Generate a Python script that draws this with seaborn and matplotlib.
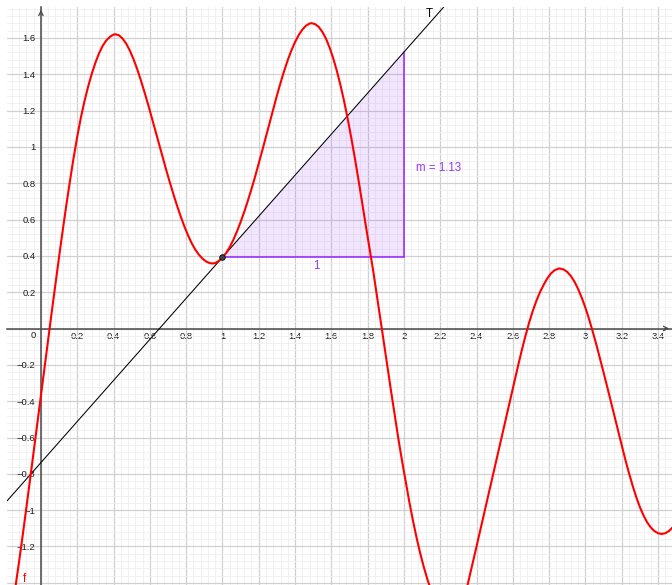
import numpy as np
import matplotlib
matplotlib.use("Agg")
import matplotlib.pyplot as plt
import seaborn as sns
from matplotlib.patches import Polygon

# ---- data ----
curve_x = [-0.160, -0.140, -0.120, -0.100, -0.080, -0.060, -0.040, -0.020, 0.000, 0.020,
           0.040, 0.060, 0.080, 0.100, 0.120, 0.140, 0.160, 0.180, 0.200, 0.220,
           0.240, 0.260, 0.280, 0.300, 0.320, 0.340, 0.360, 0.380, 0.400, 0.410,
           0.430, 0.450, 0.470, 0.490, 0.510, 0.530, 0.550, 0.570, 0.590, 0.610,
           0.630, 0.650, 0.670, 0.690, 0.710, 0.730, 0.750, 0.770, 0.790, 0.810,
           0.830, 0.850, 0.870, 0.890, 0.910, 0.930, 0.945, 0.960, 0.980, 1.000,
           1.020, 1.040, 1.060, 1.080, 1.100, 1.120, 1.140, 1.160, 1.180, 1.200,
           1.220, 1.240, 1.260, 1.280, 1.300, 1.320, 1.340, 1.360, 1.380, 1.400,
           1.420, 1.440, 1.460, 1.480, 1.491, 1.510, 1.530, 1.550, 1.570, 1.590,
           1.610, 1.630, 1.650, 1.670, 1.690, 1.710, 1.730, 1.750, 1.770, 1.790,
           1.810, 1.830, 1.850, 1.870, 1.890, 1.910, 1.930, 1.950, 1.970, 1.990,
           2.010, 2.030, 2.050, 2.070, 2.090, 2.110, 2.130, 2.150, 2.170, 2.200,
           2.250, 2.290, 2.330, 2.351, 2.400, 2.446, 2.492, 2.538, 2.584, 2.630,
           2.650, 2.670, 2.690, 2.710, 2.730, 2.750, 2.770, 2.790, 2.810, 2.830,
           2.856, 2.880, 2.900, 2.920, 2.940, 2.960, 2.980, 3.000, 3.020, 3.040,
           3.060, 3.080, 3.100, 3.120, 3.140, 3.160, 3.180, 3.200, 3.220, 3.240,
           3.260, 3.280, 3.300, 3.320, 3.340, 3.360, 3.380, 3.400, 3.420, 3.440,
           3.460, 3.480]
curve_y = [-1.560, -1.420, -1.280, -1.135, -0.985, -0.832, -0.677, -0.522, -0.367, -0.212,
           -0.058, 0.095, 0.246, 0.395, 0.540, 0.680, 0.813, 0.940, 1.056, 1.161,
           1.252, 1.332, 1.402, 1.463, 1.515, 1.556, 1.586, 1.606, 1.618, 1.620,
           1.614, 1.596, 1.568, 1.530, 1.483, 1.429, 1.368, 1.303, 1.235, 1.164,
           1.091, 1.018, 0.946, 0.874, 0.805, 0.739, 0.676, 0.617, 0.563, 0.514,
           0.471, 0.435, 0.407, 0.385, 0.369, 0.360, 0.358, 0.360, 0.372, 0.392,
           0.415, 0.448, 0.488, 0.534, 0.586, 0.642, 0.703, 0.768, 0.836, 0.908,
           0.982, 1.057, 1.133, 1.209, 1.282, 1.352, 1.418, 1.478, 1.531, 1.577,
           1.615, 1.645, 1.667, 1.679, 1.681, 1.676, 1.661, 1.634, 1.597, 1.548,
           1.489, 1.420, 1.341, 1.253, 1.155, 1.049, 0.936, 0.816, 0.690, 0.566,
           0.443, 0.322, 0.189, 0.056, -0.081, -0.217, -0.351, -0.481, -0.611, -0.731,
           -0.845, -0.956, -1.059, -1.153, -1.239, -1.315, -1.383, -1.441, -1.491, -1.550,
           -1.600, -1.570, -1.490, -1.410, -1.200, -1.000, -0.800, -0.600, -0.400, -0.200,
           -0.117, -0.039, 0.033, 0.097, 0.153, 0.201, 0.241, 0.276, 0.303, 0.321,
           0.331, 0.325, 0.311, 0.289, 0.257, 0.217, 0.169, 0.114, 0.052, -0.016,
           -0.088, -0.164, -0.242, -0.321, -0.401, -0.482, -0.563, -0.643, -0.722, -0.796,
           -0.865, -0.928, -0.983, -1.029, -1.067, -1.095, -1.115, -1.127, -1.131, -1.127,
           -1.115, -1.095]

tangent_point = (1.0, 0.392)
tangent_slope = 1.13
triangle_run = 1.0

x_tick_values = [0.2, 0.4, 0.6, 0.8, 1.0, 1.2, 1.4, 1.6, 1.8, 2.0, 2.2, 2.4, 2.6, 2.8, 3.0, 3.2, 3.4]
y_tick_values = [-1.2, -1.0, -0.8, -0.6, -0.4, -0.2, 0.2, 0.4, 0.6, 0.8, 1.0, 1.2, 1.4, 1.6]

slope_label = "m = 1.13"
run_label = "1"
curve_label = "f"
tangent_label = "T"

# ---- style ----
sns.set_style("white")
plt.rcParams["font.family"] = ["Liberation Sans", "DejaVu Sans"]
plt.rcParams["axes.unicode_minus"] = True

W, H = 672, 585
fig = plt.figure(figsize=(W / 100, H / 100), dpi=100)
ax = fig.add_axes([7 / W, 0, (W - 7) / W, (H - 7) / H])

# grid
xt = list(np.round(np.arange(-0.2, 3.6001, 0.2), 2))
yt = list(np.round(np.arange(-1.4, 1.8001, 0.2), 2))
ax.set_xticks(xt)
ax.set_yticks(yt)
ax.set_xticks(np.arange(-0.2, 3.6001, 0.04), minor=True)
ax.set_yticks(np.arange(-1.44, 1.8001, 0.04), minor=True)
ax.grid(which="major", color="#d0d0d0", lw=0.9)
ax.grid(which="minor", color="#efefef", lw=0.6)
ax.set_axisbelow(True)


def fmt(v):
    s = f"{round(v, 2):g}"
    return s.replace("-", "\u2212")


ax.set_xticklabels([fmt(v) if any(abs(v - t) < 1e-6 for t in x_tick_values) else "" for v in xt])
ax.set_yticklabels([fmt(v) if any(abs(v - t) < 1e-6 for t in y_tick_values) else "" for v in yt])
ax.tick_params(axis="both", which="both", length=0, labelsize=6.8, labelcolor="#1e1e1e")
ax.tick_params(axis="x", pad=2.2)
ax.tick_params(axis="y", pad=4.0)

for s in ["top", "right"]:
    ax.spines[s].set_visible(False)
for s in ["left", "bottom"]:
    ax.spines[s].set_position(("data", 0))
    ax.spines[s].set_color("#4a4a4a")
    ax.spines[s].set_linewidth(1.1)

# slope triangle
x0, y0 = tangent_point
tri = Polygon([(x0, y0), (x0 + triangle_run, y0), (x0 + triangle_run, y0 + tangent_slope * triangle_run)],
              closed=True, facecolor="#9933ff", alpha=0.12, edgecolor="none", zorder=2)
ax.add_patch(tri)
ax.plot([x0, x0 + triangle_run], [y0, y0], color="#9933ff", lw=1.2, zorder=3)
ax.plot([x0 + triangle_run, x0 + triangle_run], [y0, y0 + tangent_slope * triangle_run],
        color="#9933ff", lw=1.2, zorder=3)

# tangent line
ax.axline(tangent_point, slope=tangent_slope, color="black", lw=0.75, zorder=4)

# curve
sns.lineplot(x=curve_x, y=curve_y, color="#ff0000", lw=1.5, sort=False, ax=ax, zorder=5)

# point
ax.scatter([x0], [y0], s=16, color="#444444", edgecolor="black", linewidth=0.6, zorder=8)

# final view limits (after ticks so they are not widened)
ax.set_xlim(-0.187, 3.477)
ax.set_ylim(-1.412, 1.770)

# axis arrows
ax.annotate("", xy=(1.0, 0), xycoords=("axes fraction", "data"),
            xytext=(0.985, 0), textcoords=("axes fraction", "data"),
            arrowprops=dict(arrowstyle="->", color="#4a4a4a", lw=0.9, mutation_scale=8),
            annotation_clip=False)
ax.annotate("", xy=(0, 1.0), xycoords=("data", "axes fraction"),
            xytext=(0, 0.985), textcoords=("data", "axes fraction"),
            arrowprops=dict(arrowstyle="->", color="#4a4a4a", lw=0.9, mutation_scale=8),
            annotation_clip=False)

ax.text(-0.044, -0.041, "0", ha="center", va="center", fontsize=6.8, color="#1e1e1e")

# labels
ax.text(2.064, 0.882, slope_label, color="#9933ff", fontsize=8.3, ha="left", va="center")
ax.text(1.515, 0.344, run_label, color="#9933ff", fontsize=8.3, ha="center", va="center")
ax.text(2.139, 1.732, tangent_label, color="black", fontsize=8.3, ha="center", va="center")
ax.text(-0.092, -1.381, curve_label, color="#ff0000", fontsize=8.3, ha="center", va="center")

fig.savefig("out.png", dpi=100)
